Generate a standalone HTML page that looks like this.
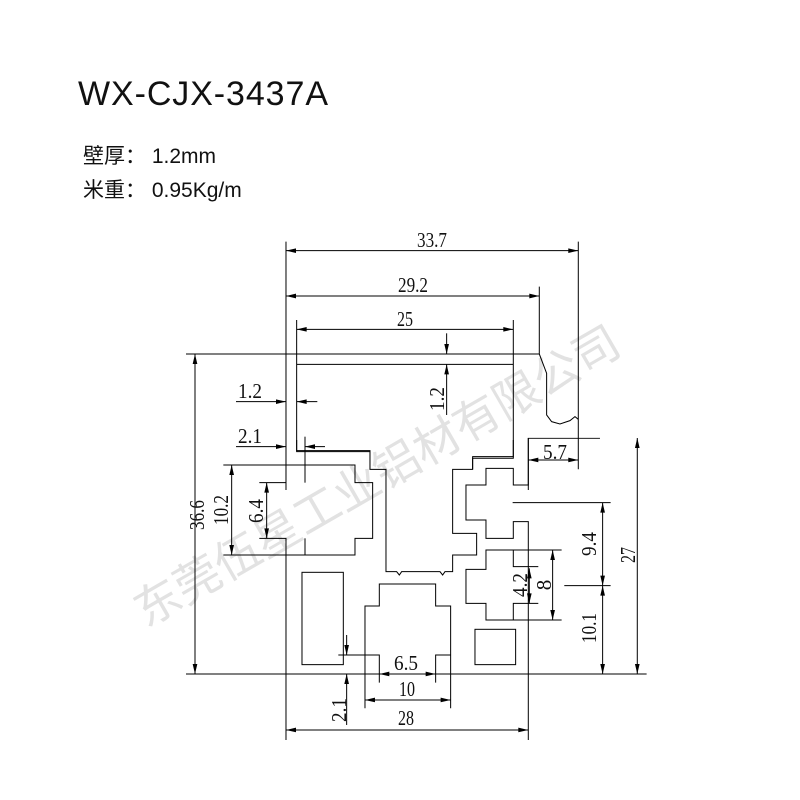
<!DOCTYPE html>
<html><head><meta charset="utf-8"><style>
html,body{margin:0;padding:0;background:#fff;}
svg{display:block}
.d{font-family:"Liberation Serif",serif;font-size:21px;fill:#111}
</style></head><body>
<svg width="800" height="800" viewBox="0 0 800 800" xmlns="http://www.w3.org/2000/svg" xmlns:xlink="http://www.w3.org/1999/xlink">
<defs>
<path id="r" d="M0,0 L-30,-7 L-30,7 z" fill="#000" stroke="none"/>
</defs>
<text x="78" y="105" font-family="Liberation Sans, sans-serif" font-size="34" textLength="250" fill="#111">WX-CJX-3437A</text>
<text x="83" y="163" font-family="Liberation Sans, 'Noto Sans CJK SC', sans-serif" font-size="21" fill="#111">壁厚： 1.2mm</text>
<text x="83" y="197" font-family="Liberation Sans, 'Noto Sans CJK SC', sans-serif" font-size="21" fill="#111">米重： 0.95Kg/m</text>

<text x="385" y="490" transform="rotate(-30 385 490)" text-anchor="middle" font-family="'Noto Sans CJK SC', sans-serif" font-size="46" fill="#e2e2e2">东莞伍星工业铝材有限公司</text>

<g fill="none" stroke="#000" stroke-width="3">
<g transform="translate(180,230) scale(0.3333)">
<polyline points="318,35 318,780"/>
<polyline points="1195,35 1195,718"/>
<polyline points="1078,170 1078,372 1100,430 1100,555 1115,575 1140,582 1170,572 1185,560 1195,568"/>
<polyline points="350,270 350,662 570,662 570,718"/>
<polyline points="1000,270 1000,685 878,685 878,718"/>
<polyline points="18,372 1078,372"/>
<polyline points="350,403 1000,403"/>
<polyline points="735,372 830,372"/>
<polyline points="1045,780 1045,625 1260,625"/>
<line x1="318" y1="62" x2="1195" y2="62"/>
<line x1="318" y1="198" x2="1078" y2="198"/>
<line x1="350" y1="298" x2="1000" y2="298"/>
<line x1="800" y1="310" x2="800" y2="372"/>
<line x1="800" y1="555" x2="800" y2="403"/>
<line x1="168" y1="515" x2="318" y2="515"/>
<line x1="412" y1="515" x2="350" y2="515"/>
<line x1="168" y1="650" x2="318" y2="650"/>
<line x1="435" y1="650" x2="375" y2="650"/>
<line x1="1045" y1="690" x2="1195" y2="690"/>
<use xlink:href="#r" transform="translate(318,62) rotate(180)"/>
<use xlink:href="#r" transform="translate(1195,62)"/>
<use xlink:href="#r" transform="translate(318,198) rotate(180)"/>
<use xlink:href="#r" transform="translate(1078,198)"/>
<use xlink:href="#r" transform="translate(350,298) rotate(180)"/>
<use xlink:href="#r" transform="translate(1000,298)"/>
<use xlink:href="#r" transform="translate(800,372) rotate(90)"/>
<use xlink:href="#r" transform="translate(800,403) rotate(-90)"/>
<use xlink:href="#r" transform="translate(318,515)"/>
<use xlink:href="#r" transform="translate(350,515) rotate(180)"/>
<use xlink:href="#r" transform="translate(318,650)"/>
<use xlink:href="#r" transform="translate(375,650) rotate(180)"/>
<use xlink:href="#r" transform="translate(1045,690) rotate(180)"/>
<use xlink:href="#r" transform="translate(1195,690)"/>
</g>
<g transform="translate(180,440) scale(0.3333)">
<polyline points="318,0 318,128 238,128"/>
<polyline points="238,295 318,295 318,900"/>
<polyline points="375,-10 375,128"/>
<polyline points="375,295 375,345"/>
<polyline points="130,75 525,75 525,128 578,128 578,295 525,295 525,345 130,345"/>
<polyline points="350,0 350,35 570,35 570,88 618,88 618,395 650,395 658,405 665,395 780,395 788,405 795,395 818,395 818,345 890,345 890,280 818,280 818,88 878,88 878,50 1000,50 1000,0"/>
<polyline points="1045,-6 1045,135 1000,135 1000,85 918,85 918,135 858,135 858,240 918,240 918,295 1000,295 1000,245 1045,245 1045,900"/>
<polyline points="998,188 1292,188"/>
<polyline points="1153,437 1292,437"/>
<polyline points="1145,330 918,330 918,388 858,388 858,490 918,490 918,540 1145,540"/>
<polyline points="1000,330 1000,380 1075,380"/>
<polyline points="1000,540 1000,490 1075,490"/>
<rect x="366" y="397" width="124" height="277"/>
<rect x="885" y="568" width="122" height="106"/>
<polyline points="555,805 555,498 598,498 598,432 767,432 767,498 812,498 812,805"/>
<polyline points="475,645 598,645 598,728"/>
<polyline points="767,728 767,645 812,645"/>
<line x1="18" y1="702" x2="1400" y2="702"/>
<line x1="500" y1="585" x2="500" y2="645"/>
<line x1="500" y1="855" x2="500" y2="702"/>
<line x1="598" y1="702" x2="767" y2="702"/>
<line x1="555" y1="780" x2="812" y2="780"/>
<line x1="318" y1="870" x2="1045" y2="870"/>
<line x1="155" y1="75" x2="155" y2="345"/>
<line x1="260" y1="128" x2="260" y2="295"/>
<line x1="1048" y1="385" x2="1048" y2="490"/>
<line x1="1118" y1="330" x2="1118" y2="540"/>
<line x1="1268" y1="188" x2="1268" y2="702"/>
<line x1="1372" y1="-6" x2="1372" y2="702"/>
<line x1="45" y1="-258" x2="45" y2="702"/>
<use xlink:href="#r" transform="translate(500,645) rotate(90)"/>
<use xlink:href="#r" transform="translate(500,702) rotate(-90)"/>
<use xlink:href="#r" transform="translate(598,702) rotate(180)"/>
<use xlink:href="#r" transform="translate(767,702)"/>
<use xlink:href="#r" transform="translate(555,780) rotate(180)"/>
<use xlink:href="#r" transform="translate(812,780)"/>
<use xlink:href="#r" transform="translate(318,870) rotate(180)"/>
<use xlink:href="#r" transform="translate(1045,870)"/>
<use xlink:href="#r" transform="translate(155,75) rotate(-90)"/>
<use xlink:href="#r" transform="translate(155,345) rotate(90)"/>
<use xlink:href="#r" transform="translate(260,128) rotate(-90)"/>
<use xlink:href="#r" transform="translate(260,295) rotate(90)"/>
<use xlink:href="#r" transform="translate(1048,385) rotate(-90)"/>
<use xlink:href="#r" transform="translate(1048,490) rotate(90)"/>
<use xlink:href="#r" transform="translate(1118,330) rotate(-90)"/>
<use xlink:href="#r" transform="translate(1118,540) rotate(90)"/>
<use xlink:href="#r" transform="translate(1268,188) rotate(-90)"/>
<use xlink:href="#r" transform="translate(1268,437) rotate(90)"/>
<use xlink:href="#r" transform="translate(1268,437) rotate(-90)"/>
<use xlink:href="#r" transform="translate(1268,702) rotate(90)"/>
<use xlink:href="#r" transform="translate(1372,-6) rotate(-90)"/>
<use xlink:href="#r" transform="translate(1372,702) rotate(90)"/>
<use xlink:href="#r" transform="translate(45,-258) rotate(-90)"/>
<use xlink:href="#r" transform="translate(45,702) rotate(90)"/>
</g>
</g>

<g class="d" text-anchor="middle">
<text x="432" y="247" textLength="30" lengthAdjust="spacingAndGlyphs">33.7</text>
<text x="413" y="292" textLength="30" lengthAdjust="spacingAndGlyphs">29.2</text>
<text x="405" y="326" textLength="16" lengthAdjust="spacingAndGlyphs">25</text>
<text x="250" y="398" textLength="24" lengthAdjust="spacingAndGlyphs">1.2</text>
<text x="250" y="443" textLength="24" lengthAdjust="spacingAndGlyphs">2.1</text>
<text x="555" y="459" textLength="24" lengthAdjust="spacingAndGlyphs">5.7</text>
<text x="406" y="670" textLength="24" lengthAdjust="spacingAndGlyphs">6.5</text>
<text x="407" y="696" textLength="16" lengthAdjust="spacingAndGlyphs">10</text>
<text x="406" y="725" textLength="16" lengthAdjust="spacingAndGlyphs">28</text>
<text transform="translate(437,399) rotate(-90)" y="7" textLength="24" lengthAdjust="spacingAndGlyphs">1.2</text>
<text transform="translate(221,510) rotate(-90)" y="7" textLength="30" lengthAdjust="spacingAndGlyphs">10.2</text>
<text transform="translate(256,511) rotate(-90)" y="7" textLength="24" lengthAdjust="spacingAndGlyphs">6.4</text>
<text transform="translate(197,515) rotate(-90)" y="7" textLength="30" lengthAdjust="spacingAndGlyphs">36.6</text>
<text transform="translate(589,544) rotate(-90)" y="7" textLength="24" lengthAdjust="spacingAndGlyphs">9.4</text>
<text transform="translate(628,555) rotate(-90)" y="7" textLength="16" lengthAdjust="spacingAndGlyphs">27</text>
<text transform="translate(520,585) rotate(-90)" y="7" textLength="24" lengthAdjust="spacingAndGlyphs">4.2</text>
<text transform="translate(544,585) rotate(-90)" y="7">8</text>
<text transform="translate(589,628) rotate(-90)" y="7" textLength="30" lengthAdjust="spacingAndGlyphs">10.1</text>
<text transform="translate(339,710) rotate(-90)" y="7" textLength="24" lengthAdjust="spacingAndGlyphs">2.1</text>
</g>
</svg>
</body></html>
